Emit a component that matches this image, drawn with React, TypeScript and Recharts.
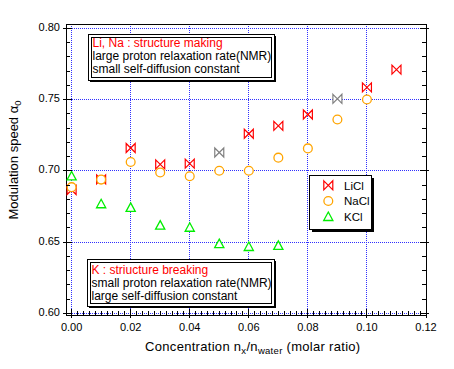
import React from 'react';
import { ScatterChart, Scatter, XAxis, YAxis, CartesianGrid, Customized } from 'recharts';

const FONT = "'Liberation Sans', Arial, Helvetica, sans-serif";

// ---- data (concentration n_x/n_water, modulation speed) ----
const concLiCl = [0, 0.01, 0.02, 0.03, 0.04, 0.06, 0.07, 0.08, 0.10, 0.11];
const speedLiCl = [0.6865, 0.694, 0.716, 0.7045, 0.705, 0.726, 0.7315, 0.7395, 0.7585, 0.771];
const concLiClGray = [0.05, 0.09];
const speedLiClGray = [0.7128, 0.7505];
const concNaCl = [0, 0.01, 0.02, 0.03, 0.04, 0.05, 0.06, 0.07, 0.08, 0.09, 0.10];
const speedNaCl = [0.6885, 0.6938, 0.7062, 0.6988, 0.6962, 0.7, 0.7, 0.7092, 0.7157, 0.736, 0.75];
const concKCl = [0, 0.01, 0.02, 0.03, 0.04, 0.05, 0.06, 0.07];
const speedKCl = [0.6965, 0.677, 0.6745, 0.662, 0.6605, 0.649, 0.647, 0.6478];

// ---- ticks ----
const xMajorTicks = [0, 0.02, 0.04, 0.06, 0.08, 0.1, 0.12];
const xTickLabels = ['0.00', '0.02', '0.04', '0.06', '0.08', '0.10', '0.12'];
const yMajorTicks = [0.6, 0.65, 0.7, 0.75, 0.8];
const yTickLabels = ['0.60', '0.65', '0.70', '0.75', '0.80'];
const xAllTicks = Array.from({ length: 61 }, (_, i) => Math.round(i * 2) / 1000);
const yAllTicks = Array.from({ length: 21 }, (_, i) => Math.round(60 + i) / 100);

// ---- texts ----
const legendNames = ['LiCl', 'NaCl', 'KCl'];
const noteMaking = ['Li, Na : structure making', 'large proton relaxation rate(NMR)', 'small self-diffusion constant'];
const noteBreaking = ['K : striucture breaking', 'small proton relaxation rate(NMR)', 'large self-diffusion constant'];

const toPoints = (xs: number[], ys: number[]) => xs.map((x, i) => ({ x, y: ys[i] }));
const liclData = toPoints(concLiCl, speedLiCl);
const liclGrayData = toPoints(concLiClGray, speedLiClGray);
const naclData = toPoints(concNaCl, speedNaCl);
const kclData = toPoints(concKCl, speedKCl);

const RED = '#ff0000';
const ORANGE = '#ffa500';
const GREEN = '#00ee00';
const GRAY = '#808080';
const GRID = '#3030ff';

const majorIndex = (v: number, list: number[]) => list.findIndex((m) => Math.abs(m - v) < 1e-7);

// ---- marker shapes ----
const Bowtie = ({ cx, cy, color }: any) => (
  <path
    d={`M${cx - 4.5},${cy - 4.5} L${cx + 4.5},${cy + 4.5} L${cx + 4.5},${cy - 4.5} L${cx - 4.5},${cy + 4.5} Z`}
    fill="#fff"
    stroke={color}
    strokeWidth={1.2}
  />
);
const Ring = ({ cx, cy }: any) => <circle cx={cx} cy={cy} r={4.4} fill="#fff" stroke={ORANGE} strokeWidth={1.3} />;
const Tri = ({ cx, cy }: any) => (
  <path d={`M${cx},${cy - 4.3} L${cx + 4.6},${cy + 4.2} L${cx - 4.6},${cy + 4.2} Z`} fill="#fff" stroke={GREEN} strokeWidth={1.3} />
);

// ---- tick renderers ----
function BottomTick(props: any) {
  const { x, y, payload } = props;
  const idx = majorIndex(payload.value, xMajorTicks);
  const major = idx >= 0;
  return (
    <g>
      <line x1={x} x2={x} y1={y - (major ? 6 : 4)} y2={y + (major ? 3 : 0)} stroke="#000" shapeRendering="crispEdges" />
      {major && (
        <text x={x} y={y + 16} textAnchor="middle" fontSize={11} fontFamily={FONT} fill="#000">
          {xTickLabels[idx]}
        </text>
      )}
    </g>
  );
}
function TopTick(props: any) {
  const { x, y, payload } = props;
  const major = majorIndex(payload.value, xMajorTicks) >= 0;
  return <line x1={x} x2={x} y1={y - (major ? 3 : 0)} y2={y + (major ? 6 : 4)} stroke="#000" shapeRendering="crispEdges" />;
}
function LeftTick(props: any) {
  const { x, y, payload } = props;
  const idx = majorIndex(payload.value, yMajorTicks);
  const major = idx >= 0;
  return (
    <g>
      <line x1={x - (major ? 3 : 0)} x2={x + (major ? 6 : 4)} y1={y} y2={y} stroke="#000" shapeRendering="crispEdges" />
      {major && (
        <text x={x - 6} y={y + 2.5} textAnchor="end" fontSize={11} fontFamily={FONT} fill="#000">
          {yTickLabels[idx]}
        </text>
      )}
    </g>
  );
}
function RightTick(props: any) {
  const { x, y, payload } = props;
  const major = majorIndex(payload.value, yMajorTicks) >= 0;
  return <line x1={x - (major ? 6 : 4)} x2={x + (major ? 3 : 0)} y1={y} y2={y} stroke="#000" shapeRendering="crispEdges" />;
}

// ---- annotation boxes, legend, titles ----
const DoubleBox = ({ x, y, w, h }: any) => (
  <g shapeRendering="crispEdges">
    <rect x={x + 1} y={y + 1} width={w} height={h} fill="#000" />
    <rect x={x} y={y} width={w} height={h} fill="#fff" stroke="#000" />
    <rect x={x + 3} y={y + 3} width={w - 6} height={h - 6} fill="none" stroke="#000" />
  </g>
);

function Overlay() {
  const legendYs = [185.3, 201, 216.3];
  return (
    <g fontFamily={FONT}>
      <DoubleBox x={88.5} y={34.5} w={186} h={46} />
      {noteMaking.map((t, i) => (
        <text key={t} x={92.5} y={47.3 + i * 13} fontSize={12} fill={i === 0 ? RED : '#000'}>
          {t}
        </text>
      ))}
      <DoubleBox x={87.5} y={259.5} w={187} h={47} />
      {noteBreaking.map((t, i) => (
        <text key={t} x={91.5} y={274 + i * 13} fontSize={12} fill={i === 0 ? RED : '#000'}>
          {t}
        </text>
      ))}
      <g shapeRendering="crispEdges">
        <rect x={311.5} y={177.5} width={62} height={54} fill="#000" />
        <rect x={309.5} y={175.5} width={62} height={54} fill="#fff" stroke="#000" />
      </g>
      <Bowtie cx={328.3} cy={legendYs[0]} color={RED} />
      <Ring cx={328.3} cy={legendYs[1]} />
      <Tri cx={328.3} cy={legendYs[2]} />
      {legendNames.map((n, i) => (
        <text key={n} x={344} y={legendYs[i] + 4.3} fontSize={11.5} fill="#000">
          {n}
        </text>
      ))}
      <text x={252.8} y={351} textAnchor="middle" fontSize={13} letterSpacing={0.3} fill="#000">
        Concentration n
        <tspan fontSize={9.5} dy={3}>x</tspan>
        <tspan dy={-3}>/n</tspan>
        <tspan fontSize={9.5} dy={3}>water</tspan>
        <tspan dy={-3}> (molar ratio)</tspan>
      </text>
      <text transform="rotate(-90)" x={-160} y={17.5} textAnchor="middle" fontSize={13} fill="#000">
        Modulation speed α<tspan fontSize={9.5} dy={3}>0</tspan>
      </text>
    </g>
  );
}

export default function App() {
  return (
    <div style={{ position: 'fixed', left: 0, top: 0, width: 454, height: 369, background: '#fff' }}>
      <ScatterChart width={454} height={369} margin={{ top: 0, right: 0, bottom: 0, left: 0 }}>
        <CartesianGrid
          stroke={GRID}
          strokeDasharray="1 1"
          verticalValues={xMajorTicks}
          horizontalValues={yMajorTicks}
          shapeRendering="crispEdges"
        />
        <XAxis
          type="number"
          dataKey="x"
          domain={[-0.0019, 0.12]}
          allowDataOverflow
          ticks={xAllTicks}
          interval={0}
          tickSize={0}
          tickMargin={0}
          tickLine={false}
          tick={<BottomTick />}
          axisLine={{ stroke: '#000', shapeRendering: 'crispEdges' }}
          height={54}
        />
        <XAxis
          xAxisId="top"
          orientation="top"
          type="number"
          domain={[-0.0019, 0.12]}
          allowDataOverflow
          ticks={xAllTicks}
          interval={0}
          tickSize={0}
          tickMargin={0}
          tickLine={false}
          tick={<TopTick />}
          axisLine={{ stroke: '#000', shapeRendering: 'crispEdges' }}
          height={24}
        />
        <YAxis
          type="number"
          dataKey="y"
          domain={[0.5988, 0.803]}
          allowDataOverflow
          ticks={yAllTicks}
          interval={0}
          tickSize={0}
          tickMargin={0}
          tickLine={false}
          tick={<LeftTick />}
          axisLine={{ stroke: '#000', shapeRendering: 'crispEdges' }}
          width={66}
        />
        <YAxis
          yAxisId="right"
          orientation="right"
          type="number"
          domain={[0.5988, 0.803]}
          allowDataOverflow
          ticks={yAllTicks}
          interval={0}
          tickSize={0}
          tickMargin={0}
          tickLine={false}
          tick={<RightTick />}
          axisLine={{ stroke: '#000', shapeRendering: 'crispEdges' }}
          width={28}
        />
        <Scatter name="LiCl" data={liclData} isAnimationActive={false} shape={(p: any) => <Bowtie cx={p.cx} cy={p.cy} color={RED} />} />
        <Scatter name="LiCl (gray)" data={liclGrayData} isAnimationActive={false} shape={(p: any) => <Bowtie cx={p.cx} cy={p.cy} color={GRAY} />} />
        <Scatter name="NaCl" data={naclData} isAnimationActive={false} shape={(p: any) => <Ring cx={p.cx} cy={p.cy} />} />
        <Scatter name="KCl" data={kclData} isAnimationActive={false} shape={(p: any) => <Tri cx={p.cx} cy={p.cy} />} />
        <Customized component={Overlay} />
      </ScatterChart>
    </div>
  );
}
